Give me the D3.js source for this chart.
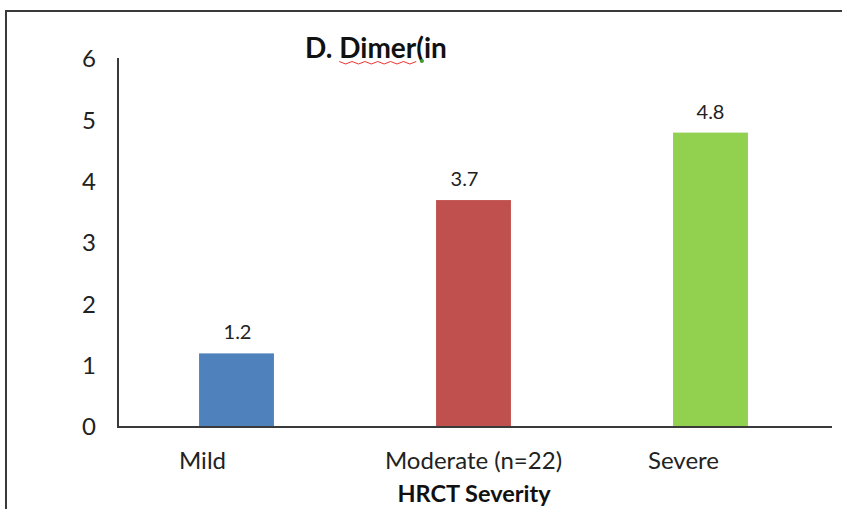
<!DOCTYPE html>
<html>
<head>
<meta charset="utf-8">
<script src="https://cdn.jsdelivr.net/npm/d3@7"></script>
<style>
  html, body { margin: 0; padding: 0; background: #fff; }
  svg { display: block; }
  text { font-family: Lato, "Open Sans", sans-serif; }
</style>
</head>
<body>
<div id="chart"></div>
<script>
// D-dimer by HRCT severity
const categories = ["Mild", "Moderate (n=22)", "Severe"];
const values = [1.2, 3.7, 4.8];
const barColors = ["#4F81BD", "#C0504D", "#92D050"];
const yTicks = [0, 1, 2, 3, 4, 5, 6];
const chartTitle = "D. Dimer(in";
const xTitle = "HRCT Severity";

const W = 842, H = 509;
const FONT = "Lato, 'Open Sans', sans-serif";
const svg = d3.select("#chart").append("svg")
  .attr("width", W).attr("height", H);

// frame lines along the top and left edges
svg.append("path")
  .attr("d", `M6,${H} V11 H${W}`)
  .attr("fill", "none")
  .attr("stroke", "#3a3a3a")
  .attr("stroke-width", 2);

const plotLeft = 118, plotRight = 829, plotTop = 59, plotBottom = 427;

const x = d3.scaleBand()
  .domain(categories)
  .range([plotLeft, plotRight])
  .paddingInner(0.684)
  .paddingOuter(0.342);

const y = d3.scaleLinear()
  .domain([0, 6])
  .range([plotBottom, plotTop]);

// bars
svg.append("g").selectAll("rect")
  .data(categories)
  .join("rect")
  .attr("x", d => x(d))
  .attr("width", x.bandwidth())
  .attr("y", (d, i) => y(values[i]))
  .attr("height", (d, i) => y(0) - y(values[i]))
  .attr("fill", (d, i) => barColors[i]);

// value labels above each bar
const valueShift = [1, -9, 0];
svg.append("g").selectAll("text")
  .data(categories)
  .join("text")
  .attr("x", (d, i) => x(d) + x.bandwidth() / 2 + valueShift[i])
  .attr("y", (d, i) => y(values[i]) - 14)
  .attr("text-anchor", "middle")
  .attr("font-size", 20)
  .attr("fill", "#222")
  .text((d, i) => values[i].toFixed(1));

// y axis: labels only, plus a plain line
const yAxis = svg.append("g")
  .attr("transform", `translate(${plotLeft},0)`)
  .call(d3.axisLeft(y).tickValues(yTicks).tickSize(0).tickPadding(22).tickFormat(d3.format("d")));
yAxis.select(".domain").remove();
yAxis.selectAll("text")
  .attr("font-size", 24)
  .attr("fill", "#222")
  .attr("font-family", FONT);

svg.append("line")
  .attr("x1", plotLeft).attr("x2", plotLeft)
  .attr("y1", plotTop - 1).attr("y2", plotBottom)
  .attr("stroke", "#3a3a3a").attr("stroke-width", 2);

// x axis
const labelShift = [-34, 0, -27];
const xAxis = svg.append("g")
  .attr("transform", `translate(0,${plotBottom})`)
  .call(d3.axisBottom(x).tickSize(0).tickPadding(25));
xAxis.select(".domain").remove();
xAxis.selectAll("text")
  .attr("font-size", 24)
  .attr("fill", "#222")
  .attr("font-family", FONT)
  .attr("dx", (d, i) => labelShift[i]);

svg.append("line")
  .attr("x1", plotLeft - 1).attr("x2", 832)
  .attr("y1", plotBottom).attr("y2", plotBottom)
  .attr("stroke", "#3a3a3a").attr("stroke-width", 2);

// axis title
svg.append("text")
  .attr("x", 474).attr("y", 502)
  .attr("text-anchor", "middle")
  .attr("font-size", 23.5)
  .attr("font-weight", "bold")
  .attr("fill", "#111")
  .text(xTitle);

// chart title with a wavy underline under "Dimer"
const titleX = 305, titleY = 58;
const title = svg.append("text")
  .attr("x", titleX).attr("y", titleY)
  .attr("font-size", 28)
  .attr("font-weight", "bold")
  .attr("fill", "#111")
  .text(chartTitle);

const tNode = title.node();
const wordStart = titleX + tNode.getSubStringLength(0, 3);
const wordLen = tNode.getSubStringLength(3, 5);
const parenEnd = titleX + tNode.getSubStringLength(0, 9);
const waveN = Math.max(2, Math.round(wordLen / 6.5));
const wave = d3.range(0, waveN + 1).map(i => [wordStart + i * wordLen / waveN, titleY + (i % 2 ? 6 : 3.5)]);
svg.append("path")
  .attr("d", d3.line()(wave))
  .attr("fill", "none")
  .attr("stroke", "#e33")
  .attr("stroke-width", 1);
svg.append("circle")
  .attr("cx", parenEnd - 2).attr("cy", titleY + 3).attr("r", 2)
  .attr("fill", "#3a9a3a");
</script>
</body>
</html>
